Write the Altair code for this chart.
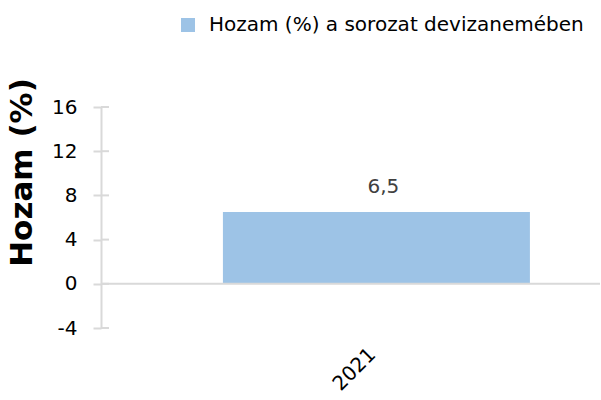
import altair as alt
import pandas as pd

# Data
years = ["2021"]
values = [6.5]
series_names = ["Hozam (%) a sorozat devizanemében"]
y_ticks = [-4, 0, 4, 8, 12, 16]
zero_line = [0]

bar_color = "#9DC3E6"
axis_color = "#D9D9D9"

df = pd.DataFrame({"year": years, "value": values, "series": series_names * len(years)})
ticks_df = pd.DataFrame({"value": y_ticks})
zero_df = pd.DataFrame({"value": zero_line})

x_enc = alt.X(
    "year:N",
    scale=alt.Scale(paddingInner=0, paddingOuter=0.3127, align=0.635),
    axis=alt.Axis(
        title=None, labelAngle=-45, domain=False, ticks=False, labelPadding=23,
        labelOffset=-4, labelFontSize=20, labelColor="#000000", labelAlign="right",
        labelBaseline="middle",
    ),
)

y_scale = alt.Scale(domain=[-4, 16], nice=False, zero=False)

bars = alt.Chart(df).mark_bar().encode(
    x=x_enc,
    y=alt.Y(
        "value:Q",
        scale=y_scale,
        axis=alt.Axis(
            values=y_ticks, grid=False, domainColor=axis_color, domainWidth=2,
            tickColor=axis_color, tickWidth=2, tickSize=8, labelPadding=16,
            labelFontSize=20, labelColor="#000000",
            labelExpr="'' + datum.value",
            title="Hozam (%)", titleFontSize=31, titleFontWeight="bold", titleColor="#000000",
            titleAngle=270, titleX=-79, titleY=65, titleAlign="center", titleBaseline="middle",
        ),
    ),
    color=alt.Color(
        "series:N",
        scale=alt.Scale(range=[bar_color]),
        legend=alt.Legend(
            title=None, orient="none", legendX=77, legendY=-92, padding=0,
            symbolType="square", symbolSize=196, symbolStrokeWidth=0,
            labelFontSize=20, labelColor="#000000", labelOffset=11, labelLimit=500,
        ),
    ),
)

labels = alt.Chart(df).transform_calculate(
    label="replace(format(datum.value, '.1f'), '.', ',')"
).mark_text(fontSize=20, color="#404040", baseline="alphabetic", dy=-19, dx=7).encode(
    x=x_enc,
    y=alt.Y("value:Q", scale=y_scale),
    text="label:N",
)

zero = alt.Chart(zero_df).mark_rule(color=axis_color, strokeWidth=2).encode(
    y=alt.Y("value:Q", scale=y_scale)
)

tick_cross = alt.Chart(ticks_df).mark_rule(color=axis_color, strokeWidth=2).encode(
    y=alt.Y("value:Q", scale=y_scale),
    x=alt.value(0),
    x2=alt.value(8),
)

chart = alt.layer(bars, zero, tick_cross, labels).properties(
    width=499,
    height=221,
    padding={"left": 101, "top": 107, "right": 1, "bottom": 72},
    autosize=alt.AutoSizeParams(type="none"),
).configure(font="DejaVu Sans").configure_view(stroke=None)

chart.save("out.html", embed_options={"renderer": "svg", "actions": False})
